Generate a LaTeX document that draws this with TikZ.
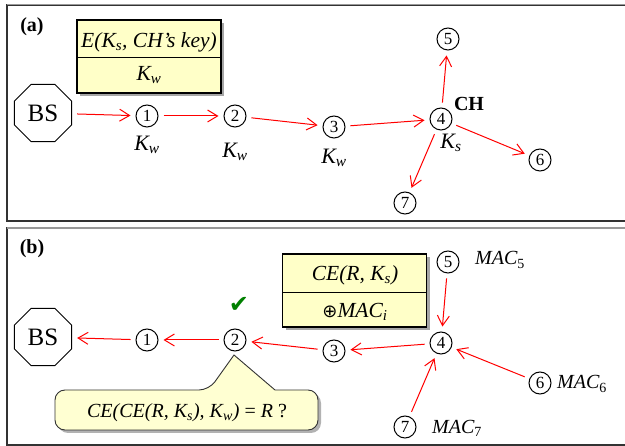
\documentclass[tikz,border=0pt]{standalone}
\usepackage{fontspec}
\setmainfont{Liberation Serif}
\newfontfamily\symfont{DejaVu Sans}
\usetikzlibrary{arrows.meta,shapes.geometric,shadows,calc}
\definecolor{boxyellow}{RGB}{255,255,200}
\definecolor{calloutyellow}{RGB}{255,255,210}
\definecolor{arrowred}{RGB}{255,0,0}
\definecolor{checkgreen}{RGB}{0,128,0}
\tikzset{
  circnode/.style={circle,draw,line width=1pt,minimum size=22pt,inner sep=0pt,font=\fontsize{17}{17}\selectfont},
  bsnode/.style={regular polygon,regular polygon sides=8,draw,line width=1pt,minimum size=62pt,inner sep=0pt,font=\fontsize{25}{25}\selectfont},
  lbl/.style={font=\fontsize{22}{22}\selectfont\itshape,inner sep=0pt},
  mactxt/.style={font=\fontsize{20}{20}\selectfont\itshape,inner sep=0pt},
  boxtxt/.style={font=\fontsize{21.5}{21.5}\selectfont\itshape,inner sep=0pt},
  paneltxt/.style={font=\fontsize{20}{20}\selectfont\bfseries,inner sep=0pt},
  msg/.style={draw=arrowred,line width=1pt,-{Straight Barb[length=10pt,width=12pt]},shorten >=5pt,shorten <=5pt},
  frame/.style={draw=black!80,line width=1.2pt},
  topedge/.style={draw=gray!80,line width=1.6pt},
  msgbox/.style={draw,line width=1.4pt,fill=boxyellow,minimum width=144pt,minimum height=73pt,inner sep=0pt,
    drop shadow={shadow xshift=3pt,shadow yshift=-3pt,fill=gray!70,opacity=1}},
  callout/.style={draw=black!80,line width=0.9pt,fill=calloutyellow}
}
\begin{document}
\begin{tikzpicture}[x=1pt,y=-1pt]
\useasboundingbox (0,0) rectangle (625,446);
\clip (0,0) rectangle (625,446);
% frames
\draw[frame] (7,5) rectangle (640,221);
\draw[topedge] (7,4.5) -- (640,4.5);
\draw[frame] (7,228) rectangle (640,445);
\draw[topedge] (7,228) -- (640,228);

% ---------------- panel (a)
\node[paneltxt] (la) at (32,27) {(a)};
\node[msgbox] (boxa) at (149,56.5) {};
\draw[line width=0.9pt] (boxa.west |- 0,57) -- (boxa.east |- 0,57);
\node[boxtxt] (boxa1) at (149,42) {E(K\textsubscript{s}, CH’s key)};
\node[boxtxt] (boxa2) at (149,75) {K\textsubscript{w}};

\node[bsnode] (bsa) at (43,113) {BS};
\node[circnode] (a1) at (147,116) {1};
\node[circnode] (a2) at (235,116) {2};
\node[circnode] (a3) at (334,127) {3};
\node[circnode] (a4) at (441,119) {4};
\node[circnode] (a5) at (448,39) {5};
\node[circnode] (a6) at (540,160) {6};
\node[circnode] (a7) at (405,203) {7};
\node[paneltxt] (ch) at (469,104) {CH};
\node[lbl] (kw1) at (147,145) {K\textsubscript{w}};
\node[lbl] (kw2) at (235,152) {K\textsubscript{w}};
\node[lbl] (kw3) at (334,158) {K\textsubscript{w}};
\node[lbl] (ks4) at (451,143) {K\textsubscript{s}};

\draw[msg] (bsa) -- (a1);
\draw[msg] (a1) -- (a2);
\draw[msg] (a2) -- (a3);
\draw[msg] (a3) -- (a4);
\draw[msg] (a4) -- (a5);
\draw[msg] (a4) -- (a6);
\draw[msg] (a4) -- (a7);

% ---------------- panel (b)
\node[paneltxt] (lb) at (32,249) {(b)};
\node[msgbox] (boxb) at (354.5,290.5) {};
\draw[line width=0.9pt] (boxb.west |- 0,292) -- (boxb.east |- 0,292);
\node[boxtxt] (boxb1) at (355,275) {CE(R, K\textsubscript{s})};
\node[boxtxt] (boxb2) at (355,312) {{\upshape\symfont\fontsize{18}{18}\selectfont ⊕}MAC\textsubscript{i}};

\node[bsnode] (bsb) at (43,337) {BS};
\node[circnode] (b1) at (147,340) {1};
\node[circnode] (b2) at (235,340) {2};
\node[circnode] (b3) at (334,351) {3};
\node[circnode] (b4) at (441,343) {4};
\node[circnode] (b5) at (448,262) {5};
\node[circnode] (b6) at (540,383) {6};
\node[circnode] (b7) at (405,427) {7};
\node[mactxt,anchor=west] (mac5) at (475,260) {MAC\textsubscript{\upshape 5}};
\node[mactxt,anchor=west] (mac6) at (557,384) {MAC\textsubscript{\upshape 6}};
\node[mactxt,anchor=west] (mac7) at (432,428) {MAC\textsubscript{\upshape 7}};
\node[font=\symfont\fontsize{24}{24}\selectfont,text=checkgreen,inner sep=0pt] (chk) at (239,305) {✔};

\draw[msg] (b1) -- (bsb);
\draw[msg] (b2) -- (b1);
\draw[msg] (b3) -- (b2);
\draw[msg] (b4) -- (b3);
\draw[msg] (b5) -- (b4);
\draw[msg] (b6) -- (b4);
\draw[msg] (b7) -- (b4);

% callout
\fill[gray!60] (58,413) [rounded corners=10pt] |- (212,393) [sharp corners] -- (237,358) -- (278,393) [rounded corners=10pt] -| (321,413) |- (58,433) -- cycle;
\path[callout] (55,410) [rounded corners=10pt] |- (209,390) [sharp corners] -- (234,355) -- (275,390) [rounded corners=10pt] -| (318,410) |- (55,430) -- cycle;
\node[mactxt] (q) at (187,413) {CE(CE(R, K\textsubscript{s}), K\textsubscript{w}) {\upshape = }R {\upshape ?}};
\end{tikzpicture}
\end{document}
